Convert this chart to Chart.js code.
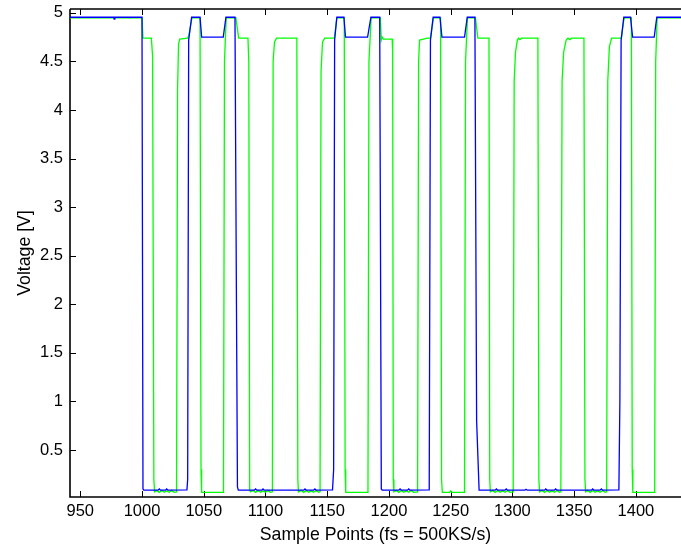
<!DOCTYPE html>
<html><head><meta charset="utf-8">
<script src="https://cdn.jsdelivr.net/npm/chart.js@4/dist/chart.umd.min.js"></script>
<style>html,body{margin:0;padding:0;background:#fff;} #wrap{width:681px;height:550px;}</style>
</head><body><div id="wrap"><canvas id="c" width="681" height="550"></canvas></div>
<script>
const xTicks = [950,1000,1050,1100,1150,1200,1250,1300,1350,1400];
const xTickLabels = ['950','1000','1050','1100','1150','1200','1250','1300','1350','1400'];
const yTicks = [0.5,1,1.5,2,2.5,3,3.5,4,4.5,5];
const yTickLabels = ['0.5','1','1.5','2','2.5','3','3.5','4','4.5','5'];

const blueX = [940,977,977.5,978,1000.0,1000.8,1001.5,1013,1014,1015,1019,1020,1021,1036.4,1037.0,1037.8,1040.2,
  1047.0,1048.3,1065.8,1068.0,1075.3,1076.5,1077.3,1078.0,1091,1092,1093,1097,1098,1099,1131,1132,1133,1139,1140,1141,
  1154.3,1155.2,1156.0,1157.8,1163.5,1164.8,1182.7,1185.4,1192.5,1193.8,1194.5,1208,1209,1210,1215,1216,1217,
  1232.6,1233.6,1235.8,1241.3,1242.9,1261.2,1263.4,1269.6,1271.0,1273.0,1286,1287,1288,1294,1295,1296,
  1310,1311,1312,1326,1327,1328,1334,1335,1336,1364,1365,1366,1371,1372,1373,
  1386.2,1387.0,1388.0,1390.2,1395.6,1397.3,1414.8,1416.9,1440];
const blueY = [4.955,4.955,4.935,4.955,4.955,0.1,0.087,0.087,0.1,0.087,0.087,0.1,0.087,0.09,0.2,4.72,4.955,
  4.955,4.75,4.75,4.955,4.955,2.0,0.12,0.087,0.087,0.1,0.087,0.087,0.1,0.087,0.087,0.1,0.087,0.087,0.1,0.087,
  0.09,0.3,4.72,4.955,4.955,4.75,4.75,4.955,4.955,0.1,0.087,0.087,0.1,0.087,0.087,0.1,0.087,
  0.09,4.72,4.955,4.955,4.75,4.75,4.955,4.955,0.8,0.087,0.087,0.1,0.087,0.087,0.1,0.087,
  0.087,0.097,0.087,0.087,0.1,0.087,0.087,0.1,0.087,0.087,0.1,0.087,0.087,0.1,0.087,
  0.09,1.0,4.72,4.955,4.955,4.75,4.75,4.955,4.955];

const greenX = [940,1000.0,1000.8,1007.6,1008.6,1009.6,1010.2,1012,1014,1016,1018,1020,1022,1024,1026,
  1028.0,1028.8,1029.6,1030.6,1036.8,1037.8,1040.5,1047.0,1047.8,1048.3,1066.0,1066.8,1068.2,1076.0,1078.3,
  1085.8,1086.5,1087.2,1087.8,1090,1092,1094,1096,1098,1100,1102,1104,
  1105.6,1106.2,1107.3,1109.0,1125.4,1126.2,1126.7,1129,1131,1133,1135,1137,1139,1141,1143,
  1144.2,1145.0,1146.2,1148.0,1155.8,1157.8,1163.8,1164.5,1165.0,1183.0,1183.8,1185.6,
  1193.0,1193.8,1194.5,1195.5,1202.6,1203.0,1203.5,1204.0,1206,1208,1210,1212,1214,1216,1218,1220,
  1223.2,1224.0,1224.8,1228.0,1231.0,1233.6,1236.0,1241.8,1242.6,1243.2,1249,1250,1251,
  1261.2,1262.0,1263.6,1270.0,1272.0,1281.0,1281.6,1282.1,1284,1286,1288,1290,1292,1294,1296,1298,
  1300.6,1301.4,1302.5,1304.0,1305.0,1306.0,1307.5,1320.6,1321.4,1322.0,1324,1326,1328,1330,1332,1334,1336,1338,
  1339.2,1340.2,1341.5,1343.5,1345.0,1346.5,1348.0,1357.9,1358.7,1359.3,1361,1363,1365,1367,1369,1371,1373,1375,
  1376.3,1377.2,1378.5,1380.3,1388.2,1390.4,1396.3,1397.0,1397.5,1415.2,1416.0,1417.2,1440];
const greenY = [4.95,4.95,4.74,4.74,4.55,0.2,0.07,0.085,0.065,0.085,0.065,0.08,0.065,0.085,0.065,
  0.07,4.2,4.68,4.73,4.74,4.76,4.95,4.95,0.3,0.065,0.065,4.5,4.95,4.95,4.74,
  4.74,4.5,0.1,0.07,0.085,0.065,0.085,0.065,0.08,0.065,0.085,0.065,
  0.07,4.5,4.7,4.74,4.74,0.2,0.07,0.085,0.065,0.085,0.065,0.08,0.065,0.085,0.065,
  0.07,4.4,4.7,4.74,4.74,4.95,4.95,0.3,0.065,0.065,4.5,4.95,
  4.95,4.72,4.75,4.73,4.73,4.6,0.2,0.07,0.085,0.065,0.085,0.065,0.08,0.065,0.085,0.065,
  0.07,4.5,4.72,4.73,4.74,4.74,4.95,4.95,0.2,0.065,0.065,0.08,0.065,
  0.065,4.5,4.95,4.95,4.74,4.74,0.2,0.07,0.085,0.065,0.085,0.065,0.08,0.065,0.085,0.065,
  0.07,4.3,4.6,4.72,4.74,4.725,4.74,4.74,0.2,0.07,0.085,0.065,0.085,0.065,0.08,0.065,0.085,0.065,
  0.07,4.3,4.6,4.72,4.74,4.725,4.74,4.74,0.2,0.07,0.085,0.065,0.085,0.065,0.08,0.065,0.085,0.065,
  0.07,4.3,4.65,4.74,4.74,4.95,4.95,0.3,0.065,0.065,4.5,4.95,4.95];

const toPts = (xs, ys) => xs.map((x, i) => ({x: x, y: ys[i]}));
const FAM = '"Liberation Sans", Arial, Helvetica, sans-serif';
const TICKFONT = {family: FAM, size: 16.5, lineHeight: 1};
const TITLEFONT = {family: FAM, size: 17.7};

const axesPlugin = {
  id: 'matlabAxes',
  beforeDatasetsDraw(chart) {
    const {ctx, chartArea: a, scales: {x, y}} = chart;
    ctx.save();
    ctx.strokeStyle = '#000';
    ctx.lineWidth = 1;
    ctx.beginPath();
    xTicks.forEach(v => {
      const p = Math.round(x.getPixelForValue(v)) + 0.5;
      ctx.moveTo(p, a.bottom); ctx.lineTo(p, a.bottom - 6);
      ctx.moveTo(p, a.top); ctx.lineTo(p, a.top + 6);
    });
    yTicks.forEach(v => {
      const p = Math.round(y.getPixelForValue(v)) + 0.5;
      ctx.moveTo(a.left, p); ctx.lineTo(a.left + 6, p);
    });
    ctx.stroke();
    ctx.lineWidth = 1.6;
    ctx.beginPath();
    ctx.moveTo(a.left, a.top); ctx.lineTo(a.right, a.top);
    ctx.moveTo(a.left, a.top); ctx.lineTo(a.left, a.bottom); ctx.lineTo(a.right, a.bottom);
    ctx.stroke();
    ctx.restore();
  }
};

new Chart(document.getElementById('c'), {
  type: 'scatter',
  data: {
    datasets: [
      {label: 'blue', data: toPts(blueX, blueY), showLine: true, borderColor: '#0000ff', borderWidth: 1.3,
       pointRadius: 0, fill: false, tension: 0},
      {label: 'green', data: toPts(greenX, greenY), showLine: true, borderColor: '#00ff00', borderWidth: 1.3,
       pointRadius: 0, fill: false, tension: 0}
    ]
  },
  options: {
    responsive: false,
    devicePixelRatio: 1,
    animation: false,
    layout: {padding: {top: 9, right: 0, bottom: 0, left: 0}},
    plugins: {legend: {display: false}, tooltip: {enabled: false}},
    scales: {
      x: {
        type: 'linear', min: 941.7, max: 1436.5,
        afterBuildTicks: s => { s.ticks = xTicks.map(v => ({value: v})); },
        afterFit: s => { s.height = 53; s.paddingLeft = 0; s.paddingRight = 0; },
        ticks: {callback: (v, i) => xTickLabels[i], font: TICKFONT, color: '#000', padding: 6,
                maxRotation: 0, autoSkip: false},
        grid: {display: false, drawTicks: false},
        border: {display: false},
        title: {display: true, text: 'Sample Points (fs = 500KS/s)', font: TITLEFONT, color: '#000',
                padding: {top: 4.4, bottom: 4.4}}
      },
      y: {
        type: 'linear', min: 0.017, max: 5.04,
        afterBuildTicks: s => { s.ticks = yTicks.map(v => ({value: v})); },
        afterFit: s => { s.width = 70; s.paddingTop = 0; s.paddingBottom = 0; },
        ticks: {callback: (v, i) => yTickLabels[i], font: TICKFONT,
                color: '#000', padding: 7, autoSkip: false},
        grid: {display: false, drawTicks: false},
        border: {display: false},
        title: {display: true, text: 'Voltage [V]', font: TITLEFONT, color: '#000',
                padding: {top: 14.4, bottom: 0}}
      }
    }
  },
  plugins: [axesPlugin]
});
</script>
</body></html>
